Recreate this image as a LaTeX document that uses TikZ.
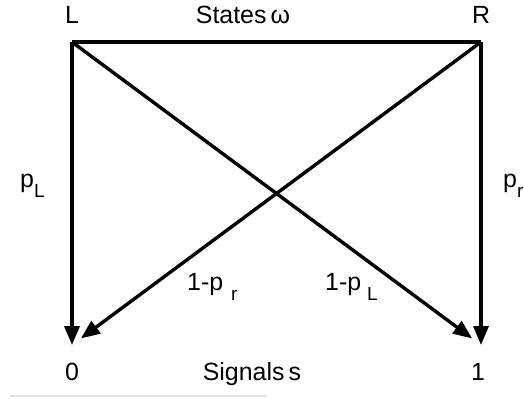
\documentclass[tikz,border=0pt]{standalone}
\usepackage{fontspec}
\setmainfont{Liberation Sans}
\usetikzlibrary{arrows.meta}
\definecolor{framegray}{HTML}{E3E3E3}
\newcommand{\lowsub}[1]{\raisebox{-10bp}{\fontsize{19}{21}\selectfont #1}}
\tikzset{
  edge/.style={line width=3.4bp},
  link/.style={edge,-{Triangle[length=19bp,width=15bp]}},
  lab/.style={font=\fontsize{25}{29}\selectfont,inner sep=0pt}
}

\begin{document}
\begin{tikzpicture}[x=1bp,y=-1bp]
\useasboundingbox (0,0) rectangle (524,398);
% states and signals
\coordinate (wL) at (72,42);
\coordinate (wR) at (481,42);
\coordinate (s0) at (72,345);
\coordinate (s1) at (481,345);
\node[lab,anchor=base] (stL) at (72,23) {L};
\node[lab,anchor=base] (stR) at (481,23) {R};
\node[lab,anchor=base] (states) at (243,23) {States\,ω};
\node[lab,anchor=base] (sig0) at (72,380) {0};
\node[lab,anchor=base] (sig1) at (478,380) {1};
\node[lab,anchor=base] (signals) at (252,380) {Signals\,s};
% transitions
\draw[edge] (wL) -- (wR);
\draw[link] (wL) -- (s0);
\draw[link] (wR) -- (s1);
\draw[link,shorten >=11bp] (wL) -- (s1);
\draw[link,shorten >=11bp] (wR) -- (s0);
% probabilities
\node[lab,anchor=base west] (pL) at (20,187) {p\lowsub{L}};
\node[lab,anchor=base west] (pR) at (503,187) {p\lowsub{r}};
\node[lab,anchor=base west] (qR) at (187,290) {1-p\hspace{8bp}\lowsub{r}};
\node[lab,anchor=base west] (qL) at (325,290) {1-p\hspace{6bp}\lowsub{L}};
\draw[framegray,line width=2bp] (10,396) -- (267,396);
\end{tikzpicture}
\end{document}
